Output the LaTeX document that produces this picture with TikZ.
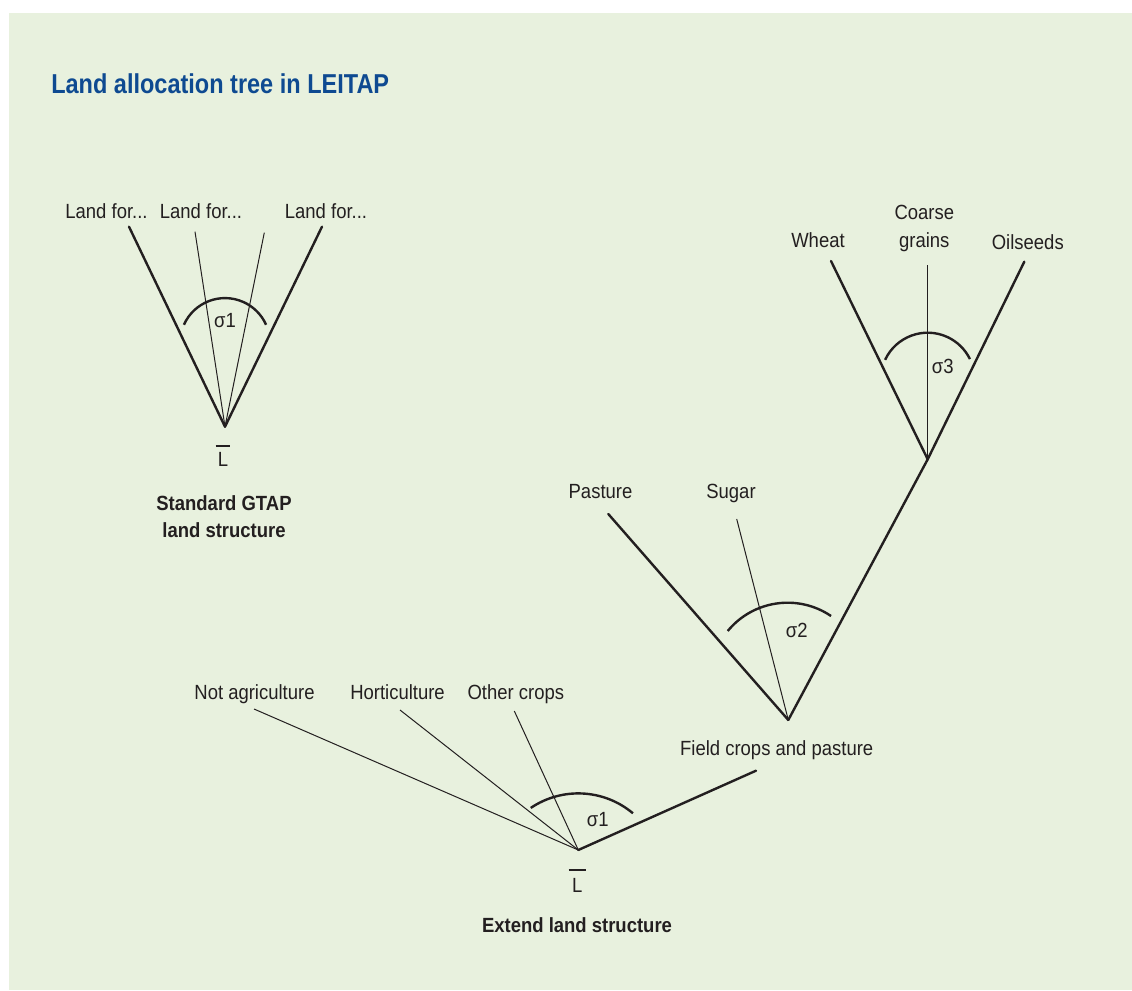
\documentclass[tikz,border=0pt]{standalone}
\usepackage{fontspec}
\setmainfont[FakeStretch=0.9]{Liberation Sans}
\newfontfamily\headfont[FakeStretch=0.86]{Liberation Sans}
\usetikzlibrary{calc}
\definecolor{panel}{RGB}{232,241,222}
\definecolor{ink}{RGB}{35,31,32}
\definecolor{titleblue}{RGB}{14,74,145}
\begin{document}
\begin{tikzpicture}[x=0.75pt,y=0.75pt,
  lbl/.style={inner sep=0pt, text=ink, font=\fontsize{15.4}{21}\selectfont},
  caption/.style={inner sep=0pt, text=ink, align=center, font=\bfseries\fontsize{15.4}{20}\selectfont},
  sigma/.style={inner sep=0pt, text=ink, font=\fontsize{15.4}{18}\selectfont},
  heavy/.style={draw=ink, line width=1.8pt, line cap=round},
  light/.style={draw=ink, line width=0.75pt},
  bar/.style={draw=ink, line width=1.3pt},
  elast/.style={draw=ink, line width=1.8pt}]
\useasboundingbox (0,0) rectangle (1132,990);
\fill[white] (0,0) rectangle (1132,990);
\fill[panel] (9,0) rectangle (1132,977);

% heading
\node[anchor=base west, inner sep=0pt, text=titleblue,
      font=\headfont\bfseries\fontsize{20.5}{24}\selectfont] (title) at (51,896)
      {Land allocation tree in LEITAP};

% ---------- standard GTAP land structure ----------
\coordinate (gA) at (225,563.3);
\coordinate (g1) at (129,763.3);
\coordinate (g2) at (195,758.3);
\coordinate (g3) at (264.3,757.3);
\coordinate (g4) at (322,763.3);
\node[lbl, anchor=base] (gl1) at (106.5,771) {Land for...};
\node[lbl, anchor=base] (gl2) at (201,771) {Land for...};
\node[lbl, anchor=base] (gl3) at (326,771) {Land for...};
\draw[heavy] (gA) -- (g1);
\draw[light] (gA) -- (g2);
\draw[light] (gA) -- (g3);
\draw[heavy] (gA) -- (g4);
\draw[elast] (225,646.9) ++(156:45) arc (156:24:45);
\node[sigma] (gs) at (225,669) {σ1};
\node[lbl] (gL) at (223,531) {L};
\draw[bar] ($(gL.north)+(-7.3,6)$) -- ($(gL.north)+(7.3,6)$);
\node[caption] (gcap) at (224,473.3) {Standard GTAP\\land structure};

% ---------- extended land structure ----------
\coordinate (eA) at (578.3,140);
\coordinate (e1) at (254,281);
\coordinate (e2) at (400,280);
\coordinate (e3) at (514.3,279);
\coordinate (e4) at (756,219.3);
\node[lbl, anchor=base] (el1) at (254.5,290.7) {Not agriculture};
\node[lbl, anchor=base] (el2) at (397.5,290.7) {Horticulture};
\node[lbl, anchor=base] (el3) at (515.8,290.7) {Other crops};
\node[lbl, anchor=base] (el4) at (776.7,234.3) {Field crops and pasture};
\draw[light] (eA) -- (e1);
\draw[light] (eA) -- (e2);
\draw[light] (eA) -- (e3);
\draw[heavy] (eA) -- (e4);
\draw[elast] (578.3,111.6) ++(124:85) arc (124:50:85);
\node[sigma] (es) at (597.7,170) {σ1};
\node[lbl] (eL) at (577.3,104.7) {L};
\draw[bar] ($(eL.north)+(-8.8,8)$) -- ($(eL.north)+(8.8,8)$);
\node[caption] (ecap) at (577,65) {Extend land structure};

% ---------- field crops and pasture nest ----------
\coordinate (fA) at (788.3,270);
\coordinate (f1) at (608.3,476);
\coordinate (f2) at (736.7,471);
\node[lbl, anchor=base] (fl1) at (600.5,491.7) {Pasture};
\node[lbl, anchor=base] (fl2) at (731,491.7) {Sugar};
\draw[heavy] (fA) -- (f1);
\draw[light] (fA) -- (f2);
\draw[elast] (787.6,309.8) ++(140.6:77.5) arc (140.6:55.9:77.5);
\node[sigma] (fs) at (796.7,359.3) {σ2};

% ---------- cereals and oilseeds nest ----------
\coordinate (cA) at (927.7,530.7);
\coordinate (c1) at (831,729);
\coordinate (c2) at (927.7,725);
\coordinate (c3) at (1024.3,728.3);
\node[lbl, anchor=base] (cl1) at (818,742.7) {Wheat};
\node[lbl, anchor=base] (cl2a) at (924.3,770.7) {Coarse};
\node[lbl, anchor=base] (cl2b) at (924.3,742.7) {grains};
\node[lbl, anchor=base] (cl3) at (1027.8,740) {Oilseeds};
\draw[heavy] (fA) -- (cA);
\draw[heavy] (cA) -- (c1);
\draw[light] (cA) -- (c2);
\draw[heavy] (cA) -- (c3);
\draw[elast] (927.7,610.3) ++(155:47) arc (155:26:47);
\node[sigma] (cs) at (942.7,623.3) {σ3};
\end{tikzpicture}
\end{document}
